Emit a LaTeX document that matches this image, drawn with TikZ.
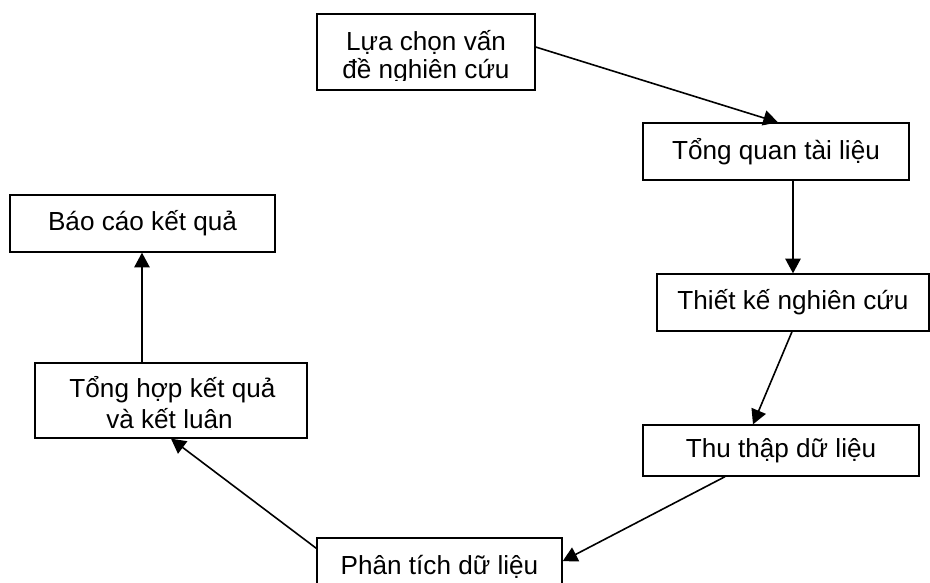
\documentclass[tikz,border=0pt]{standalone}
\usepackage{fontspec}
\setmainfont{Liberation Sans}
\usetikzlibrary{arrows.meta}
\begin{document}
\begin{tikzpicture}[x=0.75pt,y=-0.75pt,
  txt/.style={inner sep=0pt,font=\fontsize{19.6pt}{22pt}\selectfont},
  stepbox/.style={draw=black,line width=1pt,inner sep=0pt,align=center,
    font=\fontsize{19.6pt}{22pt}\selectfont},
  flow/.style={line width=1.2pt,-{Triangle[length=11pt,width=11.5pt]}}]
\useasboundingbox (0,0) rectangle (930,582);
\clip (0,0) rectangle (930,582);
\fill[white] (0,0) rectangle (930,582);
% boxes
\node[stepbox,minimum width=163.5pt,minimum height=57pt] (b1) at (426,52) {};
\node[stepbox,minimum width=199.5pt,minimum height=42.75pt] (b2) at (776,151.5) {Tổng quan tài liệu};
\node[stepbox,minimum width=204pt,minimum height=42.75pt] (b3) at (793,302.5) {Thiết kế nghiên cứu};
\node[stepbox,minimum width=207pt,minimum height=38.25pt] (b4) at (781,450.5) {Thu thập dữ liệu};
\node[stepbox,minimum width=183.75pt,minimum height=42.75pt] (b5) at (439.5,566.5) {Phân tích dữ liệu};
\node[stepbox,minimum width=204pt,minimum height=56.25pt] (b6) at (171,400.5) {};
\node[stepbox,minimum width=198.75pt,minimum height=42.75pt] (b7) at (142.5,223.5) {Báo cáo kết quả};
% two-line texts, clipped as in the reference
\begin{scope}
\clip (317,16) rectangle (535,80.5);
\node[txt,anchor=base] (b1a) at (426,50) {Lựa chọn vấn};
\node[txt,anchor=base] (b1b) at (426,78.5) {đề nghiên cứu};
\end{scope}
\begin{scope}
\clip (35,365) rectangle (307,429.5);
\node[txt,anchor=base] (b6a) at (172.5,397.5) {Tổng hợp kết quả};
\node[txt,anchor=base] (b6b) at (169.5,428) {và kết luận};
\end{scope}
% connectors
\draw[flow] ([yshift=3.75pt]b1.east) -- ([xshift=1.5pt]b2.north);
\draw[flow] (b2.south -| b3.north) -- (b3.north);
\draw[flow] ([xshift=-0.75pt]b3.south) -- ([xshift=-21pt]b4.north);
\draw[flow] ([xshift=-42pt]b4.south) -- ([yshift=4pt]b5.east);
\draw[flow] ([yshift=-8.25pt]b5.north west) -- (b6.south);
\draw[flow] ([xshift=-0.4pt]b6.north -| b7.south) -- ([xshift=-0.4pt]b7.south);
\end{tikzpicture}
\end{document}
